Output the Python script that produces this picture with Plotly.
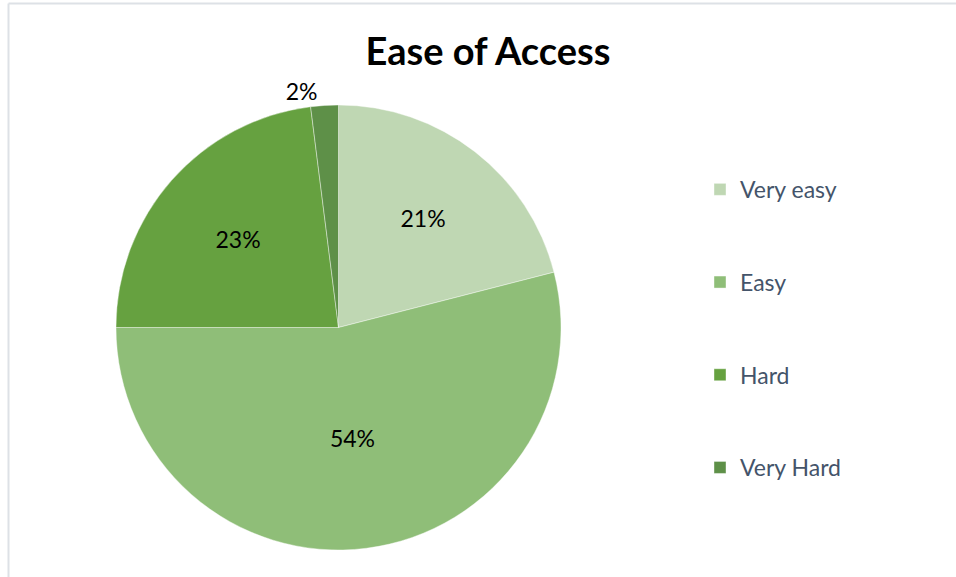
import plotly.graph_objects as go

categories = ["Very easy", "Easy", "Hard", "Very Hard"]
values = [21, 54, 23, 2]
colors = ["#bfd7b3", "#8fbe78", "#66a140", "#5e9048"]
text_positions = ["inside", "inside", "inside", "outside"]

W, H = 956, 577
cx, cy, R = 338.5, 327.5, 222.5

legend_labels = ["<br>" + c + "<br> " for c in categories]

fig = go.Figure(go.Pie(
    labels=legend_labels,
    values=values,
    sort=False,
    direction="clockwise",
    rotation=0,
    marker=dict(colors=colors, line=dict(color="rgba(255,255,255,0.5)", width=0.8)),
    texttemplate="%{percent:.0%}",
    textposition=text_positions,
    insidetextorientation="horizontal",
    textfont=dict(family="Lato, Calibri, sans-serif", size=23, color="#000000"),
    customdata=categories,
    hovertemplate="%{customdata}: %{value}<extra></extra>",
    domain=dict(x=[(cx - R) / W, (cx + R) / W], y=[1 - (cy + R) / H, 1 - (cy - R) / H]),
))

fig.update_layout(
    width=W, height=H,
    margin=dict(l=0, r=0, t=0, b=0),
    paper_bgcolor="white",
    title=dict(text="<b>Ease of Access</b>", x=488 / W, xanchor="center",
               y=1 - 52 / H, yanchor="middle",
               font=dict(family="Lato, Calibri, sans-serif", size=38, color="#000000")),
    legend=dict(x=700 / W, xanchor="left", y=1 - 138 / H, yanchor="top",
                font=dict(family="Lato, Calibri, sans-serif", size=23, color="#44546a"),
                bgcolor="rgba(0,0,0,0)", tracegroupgap=0),
    shapes=[
        dict(type="line", xref="paper", yref="paper", x0=8.5 / W, x1=8.5 / W, y0=0, y1=1 - 3.5 / H,
             line=dict(color="#dde1e6", width=2)),
        dict(type="line", xref="paper", yref="paper", x0=8.5 / W, x1=1, y0=1 - 3.5 / H, y1=1 - 3.5 / H,
             line=dict(color="#dde1e6", width=2)),
    ],
)

fig.write_html("out.html")
